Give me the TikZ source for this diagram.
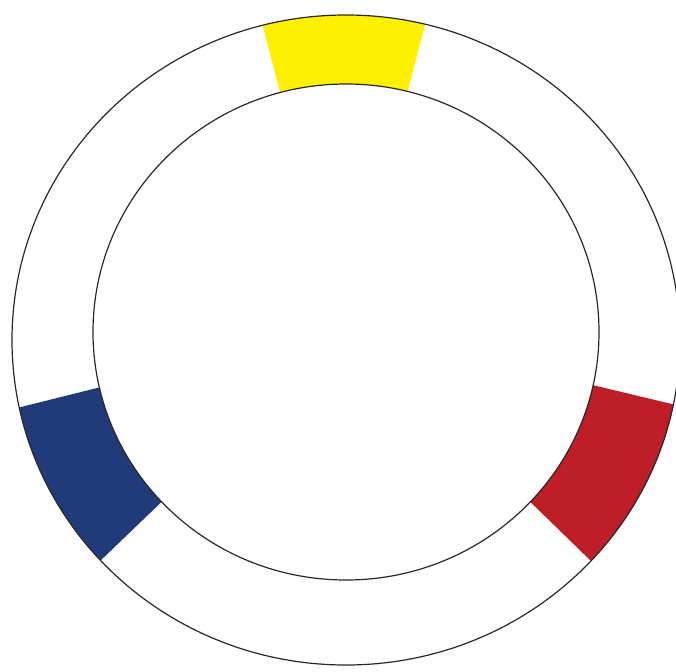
\documentclass[tikz,border=0pt]{standalone}
\usetikzlibrary{calc}
\definecolor{wheelyellow}{RGB}{255,240,0}
\definecolor{wheelred}{RGB}{190,30,40}
\definecolor{wheelblue}{RGB}{33,58,122}
\definecolor{ringgray}{RGB}{40,40,40}
\begin{document}
\begin{tikzpicture}[x=0.025cm, y=-0.025cm,
    ringline/.style={draw=ringgray, line width=0.85pt},
    wheelseg/.style={draw=none}]

\clip (0,0) rectangle (676,671);
\fill[white] (0,0) rectangle (676,671);

% === colour segments ===
\begin{scope}
\clip (346,340) ellipse [x radius=334, y radius=325];
\fill[wheelseg, wheelyellow] (255.9,0) -- (431.5,0) -- (402.8,110) -- (284.8,110) -- cycle;
\fill[wheelseg, wheelred] (560,377.2) -- (700,410.8) -- (640,608.8) -- (500,472.4) -- cycle;
\fill[wheelseg, wheelblue] (-20,417.3) -- (130,379.8) -- (190,474.6) -- (70,589.9) -- cycle;
\end{scope}

% === ring ===
\fill[white] (346,332) ellipse [x radius=253, y radius=248];
\draw[ringline] (346,340) ellipse [x radius=334, y radius=325];
\draw[ringline] (346,332) ellipse [x radius=253, y radius=248];

\end{tikzpicture}
\end{document}
